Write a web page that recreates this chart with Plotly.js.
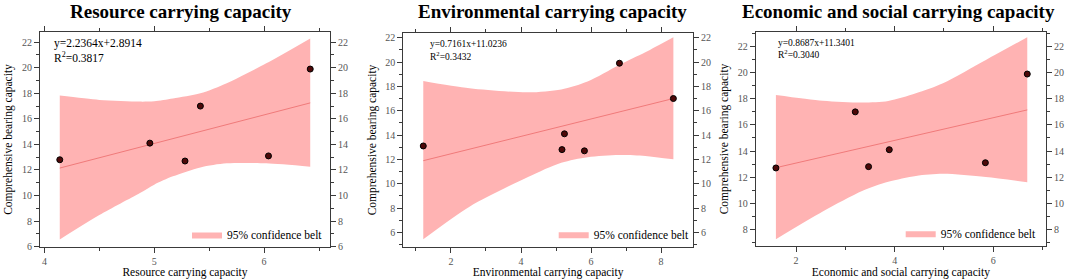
<!DOCTYPE html>
<html>
<head>
<meta charset="utf-8">
<script src="https://cdn.plot.ly/plotly-3.0.1.min.js"></script>
<style>html,body{margin:0;padding:0;background:#fff}#chart{width:1065px;height:279px}</style>
</head>
<body>
<div id="chart"></div>
<script>
// ---------- data ----------
const panelTitles = ["Resource carrying capacity", "Environmental carrying capacity", "Economic and social carrying capacity"];
const xTitles = ["Resource carrying capacity", "Environmental carrying capacity", "Economic and social carrying capacity"];
const yTitle = "Comprehensive bearing capacity";
const equations = ["y=2.2364x+2.8914", "y=0.7161x+11.0236", "y=0.8687x+11.3401"];
const r2Values = ["0.3817", "0.3432", "0.3040"];
const legendLabel = "95% confidence belt";

// Panel 1: Resource
const resX = [4.14, 4.96, 5.28, 5.42, 6.04, 6.42];
const resY = [12.8, 14.1, 12.7, 17.0, 13.1, 19.9];
const resFitX = [4.14, 6.42];
const resFitY = [12.15, 17.25];
const resBandX = [4.14, 4.5, 4.87, 5.0, 5.17, 5.42, 5.66, 6.02, 6.42];
const resBandUpper = [17.82, 17.48, 17.35, 17.38, 17.6, 18.0, 18.79, 20.35, 22.3];
const resBandLower = [6.56, 8.47, 10.2, 10.85, 11.5, 12.2, 12.52, 12.52, 12.25];

// Panel 2: Environmental
const envX = [1.21, 5.17, 5.24, 5.81, 6.81, 8.35];
const envY = [13.1, 12.8, 14.1, 12.7, 19.9, 17.0];
const envFitX = [1.21, 8.35];
const envFitY = [11.89, 17.0];
const envBandX = [1.21, 2.53, 4.2, 5.15, 5.9, 6.8, 7.55, 8.35];
const envBandUpper = [18.44, 17.84, 17.51, 17.75, 18.4, 19.76, 20.8, 22.03];
const envBandLower = [5.43, 8.11, 10.55, 11.72, 12.18, 12.36, 12.28, 12.0];

// Panel 3: Economic and social
const ecoX = [1.59, 3.2, 3.47, 3.89, 5.84, 6.69];
const ecoY = [12.7, 17.0, 12.8, 14.1, 13.1, 19.9];
const ecoFitX = [1.59, 6.69];
const ecoFitY = [12.72, 17.15];
const ecoBandX = [1.59, 2.54, 3.35, 3.87, 4.43, 4.98, 5.85, 6.69];
const ecoBandUpper = [18.3, 17.86, 17.72, 17.84, 18.43, 19.2, 20.98, 22.72];
const ecoBandLower = [7.24, 9.36, 10.95, 11.64, 12.09, 12.25, 12.0, 11.6];

// ---------- layout geometry ----------
const W = 1065, H = 279;
const FONT = "Liberation Serif, Times New Roman, serif";
const panels = [
  {x: resX, y: resY, fx: resFitX, fy: resFitY, bx: resBandX, bu: resBandUpper, bl: resBandLower,
   px: [40, 330], py: [32, 247], xr: [3.96, 6.6], yr: [5.97, 22.8], xd: 1, xm: 0.5, eqFont: 11.5,
   eqX: 0.04, eqY: [0.947, 0.885], legX: 187, titleX: 181},
  {x: envX, y: envY, fx: envFitX, fy: envFitY, bx: envBandX, bu: envBandUpper, bl: envBandLower,
   px: [403.3, 693], py: [33.3, 246.7], xr: [0.64, 8.91], yr: [4.82, 22.36], xd: 2, xm: 1, eqFont: 9.5,
   eqX: 0.085, eqY: [0.948, 0.894], legX: 553.7, titleX: 552.5},
  {x: ecoX, y: ecoY, fx: ecoFitX, fy: ecoFitY, bx: ecoBandX, bu: ecoBandUpper, bl: ecoBandLower,
   px: [755.7, 1046], py: [32.3, 245.7], xr: [1.18, 7.07], yr: [6.74, 23.1], xd: 2, xm: 1, eqFont: 9.5,
   eqX: 0.07, eqY: [0.951, 0.897], legX: 900.7, titleX: 898.5}
];

const traces = [];
const layout = {
  width: W, height: H,
  margin: {l: 0, r: 0, t: 0, b: 0},
  paper_bgcolor: "#fff", plot_bgcolor: "rgba(0,0,0,0)",
  font: {family: FONT, color: "#000"},
  annotations: [],
  showlegend: true
};

const axisColor = "#3a3a3a";
const tickFont = {family: FONT, size: 10, color: "#555"};

panels.forEach((p, i) => {
  const n = i + 1;
  const xa = "x" + (n === 1 ? "" : n), ya = "y" + (n === 1 ? "" : n);
  const yRightId = "y" + (n + 3);
  const legId = n === 1 ? "legend" : "legend" + n;

  // band: lower (invisible) then upper filled to it
  traces.push({x: p.bx, y: p.bl, xaxis: xa, yaxis: ya, type: "scatter", mode: "lines",
    line: {width: 0, shape: "spline", smoothing: 0.8}, showlegend: false, hoverinfo: "skip"});
  traces.push({x: p.bx, y: p.bu, xaxis: xa, yaxis: ya, type: "scatter", mode: "lines",
    line: {width: 0, shape: "spline", smoothing: 0.8}, fill: "tonexty", fillcolor: "#ffb3b3",
    name: legendLabel, legend: legId, showlegend: true});
  // fit line
  traces.push({x: p.fx, y: p.fy, xaxis: xa, yaxis: ya, type: "scatter", mode: "lines",
    line: {color: "#f07a7a", width: 1}, showlegend: false});
  // points
  traces.push({x: p.x, y: p.y, xaxis: xa, yaxis: ya, type: "scatter", mode: "markers",
    marker: {size: 6, color: "#4d0808", line: {color: "#000", width: 1}}, showlegend: false});
  // empty trace to bind right-hand axis
  traces.push({x: [], y: [], xaxis: xa, yaxis: yRightId, type: "scatter", showlegend: false});

  const xdom = [p.px[0] / W, p.px[1] / W];
  const ydom = [(H - p.py[1]) / H, (H - p.py[0]) / H];

  layout["xaxis" + (n === 1 ? "" : n)] = {
    domain: xdom, range: p.xr, anchor: ya, showgrid: false, zeroline: false,
    showline: true, linecolor: axisColor, linewidth: 1, mirror: "ticks",
    ticks: "outside", ticklen: 5, tickcolor: axisColor, dtick: p.xd, tick0: 0,
    minor: {ticks: "outside", ticklen: 3, dtick: p.xm, tick0: 0, tickcolor: axisColor, showgrid: false},
    tickfont: tickFont,
    title: {text: xTitles[i], font: {family: FONT, size: 11.5, color: "#000"}, standoff: 0}
  };
  layout["yaxis" + (n === 1 ? "" : n)] = {
    domain: ydom, range: p.yr, anchor: xa, showgrid: false, zeroline: false,
    showline: true, linecolor: axisColor, linewidth: 1, mirror: true,
    ticks: "outside", ticklen: 5, tickcolor: axisColor, dtick: 2, tick0: 0,
    minor: {ticks: "outside", ticklen: 3, dtick: 1, tick0: 0, tickcolor: axisColor, showgrid: false},
    tickfont: tickFont,
    title: {text: yTitle, font: {family: FONT, size: 11.5, color: "#000"}, standoff: 6}
  };
  layout["yaxis" + (n + 3)] = {
    overlaying: ya, side: "right", anchor: xa, range: p.yr, showgrid: false, zeroline: false,
    showline: false, ticks: "outside", ticklen: 5, tickcolor: axisColor, dtick: 2, tick0: 0,
    minor: {ticks: "outside", ticklen: 3, dtick: 1, tick0: 0, tickcolor: axisColor, showgrid: false},
    tickfont: tickFont
  };

  layout[legId] = {
    x: p.legX / W, xanchor: "left", y: (H - (p.py[1] - 12.5)) / H, yanchor: "middle",
    bgcolor: "rgba(0,0,0,0)", borderwidth: 0, font: {family: FONT, size: 11.5, color: "#000"},
    itemwidth: 30
  };

  // panel title
  layout.annotations.push({text: "<b>" + panelTitles[i] + "</b>", xref: "paper", yref: "paper",
    x: p.titleX / W, y: (H - 11) / H, xanchor: "center", yanchor: "middle", showarrow: false,
    font: {family: FONT, size: 19, color: "#000"}});
  // equation + R2
  layout.annotations.push({text: equations[i], xref: xa + " domain", yref: ya + " domain",
    x: p.eqX, y: p.eqY[0], xanchor: "left", yanchor: "middle", showarrow: false,
    font: {family: FONT, size: p.eqFont, color: "#000"}});
  layout.annotations.push({text: "R<sup>2</sup>=" + r2Values[i], xref: xa + " domain", yref: ya + " domain",
    x: p.eqX, y: p.eqY[1], xanchor: "left", yanchor: "middle", showarrow: false,
    font: {family: FONT, size: p.eqFont, color: "#000"}});
});

Plotly.newPlot("chart", traces, layout, {displayModeBar: false, staticPlot: true});
</script>
</body>
</html>
